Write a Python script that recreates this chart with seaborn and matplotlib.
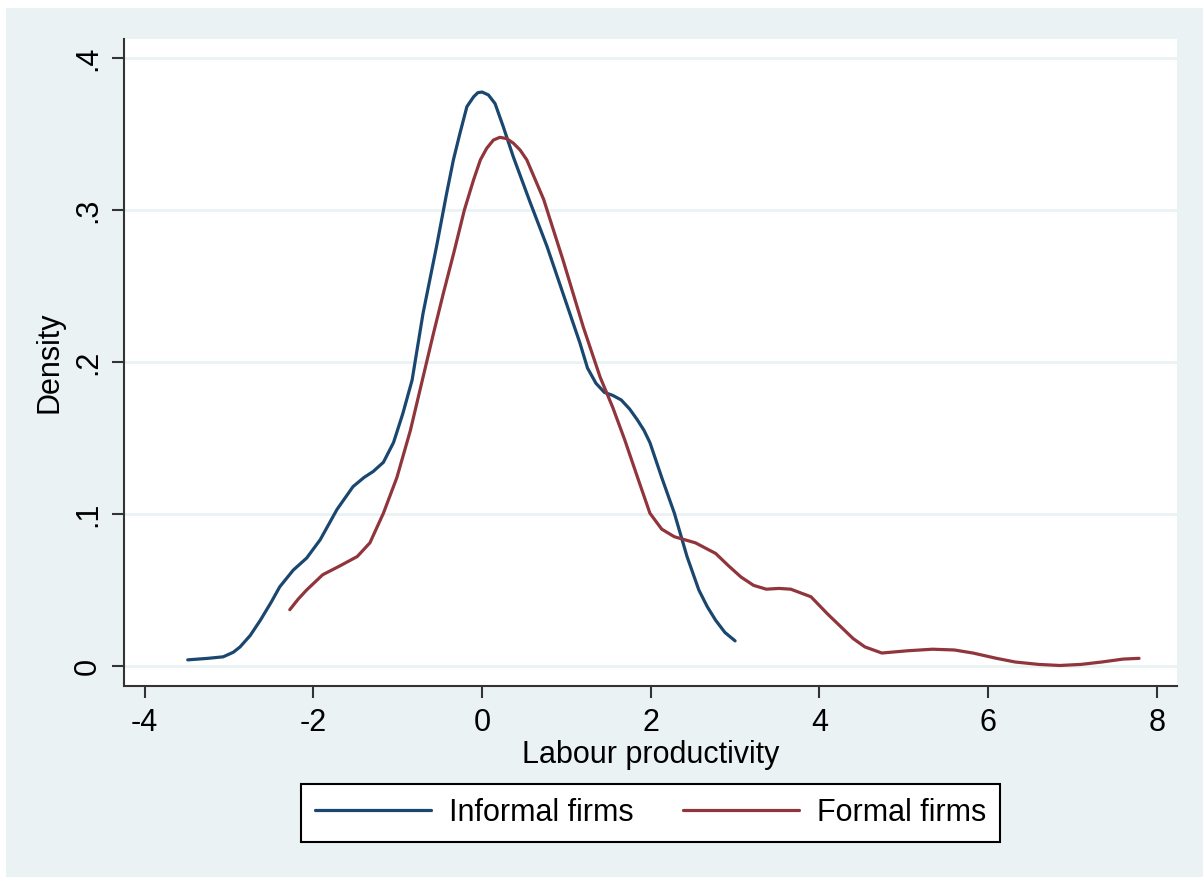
import numpy as np
import pandas as pd
import seaborn as sns
import matplotlib.pyplot as plt
from matplotlib.patches import Rectangle

# values (kernel density curves)
informal_x = [-3.49, -3.25, -3.07, -2.95, -2.87, -2.75, -2.63, -2.50, -2.40, -2.24,
              -2.08, -1.92, -1.72, -1.53, -1.40, -1.29, -1.17, -1.05, -0.94, -0.83,
              -0.70, -0.54, -0.42, -0.34, -0.26, -0.18, -0.10, -0.05, 0.00, 0.075,
              0.154, 0.25, 0.37, 0.57, 0.77, 0.96, 1.16, 1.25, 1.35, 1.45,
              1.55, 1.65, 1.75, 1.84, 1.92, 1.99, 2.13, 2.28, 2.43, 2.57,
              2.67, 2.77, 2.88, 3.00]
informal_y = [0.004, 0.005, 0.006, 0.009, 0.0125, 0.020, 0.030, 0.042, 0.052, 0.063,
              0.071, 0.083, 0.103, 0.118, 0.124, 0.128, 0.134, 0.147, 0.166, 0.188,
              0.232, 0.276, 0.311, 0.333, 0.351, 0.368, 0.3745, 0.3772, 0.3776, 0.3757,
              0.370, 0.355, 0.335, 0.305, 0.276, 0.245, 0.2125, 0.196, 0.186, 0.180,
              0.178, 0.175, 0.169, 0.162, 0.155, 0.147, 0.124, 0.1005, 0.072, 0.050,
              0.039, 0.030, 0.022, 0.0165]

formal_x = [-2.28, -2.18, -2.08, -1.89, -1.68, -1.48, -1.33, -1.17, -1.01, -0.85,
            -0.70, -0.58, -0.46, -0.33, -0.21, -0.10, -0.02, 0.055, 0.134, 0.21,
            0.29, 0.37, 0.45, 0.53, 0.73, 0.96, 1.20, 1.40, 1.55, 1.69,
            1.85, 1.99, 2.13, 2.28, 2.53, 2.77, 2.92, 3.07, 3.22, 3.37,
            3.52, 3.66, 3.90, 4.10, 4.25, 4.40, 4.54, 4.74, 5.05, 5.34,
            5.60, 5.82, 6.10, 6.32, 6.60, 6.85, 7.10, 7.35, 7.60, 7.79]
formal_y = [0.037, 0.044, 0.050, 0.060, 0.066, 0.072, 0.081, 0.1005, 0.124, 0.155,
            0.190, 0.218, 0.245, 0.273, 0.300, 0.320, 0.333, 0.3406, 0.346, 0.3478,
            0.347, 0.344, 0.3395, 0.333, 0.307, 0.267, 0.223, 0.190, 0.170, 0.149,
            0.123, 0.1005, 0.090, 0.085, 0.081, 0.074, 0.066, 0.0585, 0.053, 0.0505,
            0.051, 0.0505, 0.0455, 0.034, 0.026, 0.018, 0.0125, 0.0085, 0.010, 0.011,
            0.0105, 0.0085, 0.005, 0.0026, 0.001, 0.0003, 0.001, 0.0026, 0.0045, 0.005]

x_ticks = [-4, -2, 0, 2, 4, 6, 8]
y_ticks = [0, 0.1, 0.2, 0.3, 0.4]
y_tick_labels = ["0", ".1", ".2", ".3", ".4"]

bg = "#EAF2F3"
blue = "#1A476F"
red = "#90353B"

sns.set_style("white")
plt.rcParams["font.family"] = ["Liberation Sans", "DejaVu Sans"]
plt.rcParams["text.color"] = "black"
plt.rcParams["axes.labelcolor"] = "black"
plt.rcParams["xtick.color"] = "black"
plt.rcParams["ytick.color"] = "black"

fig = plt.figure(figsize=(12.03, 8.77), dpi=100, facecolor=bg)
# thin white strips at the top and left edge, as in the export
fig.patches.append(Rectangle((0, 1 - 8 / 877), 1, 8 / 877, transform=fig.transFigure,
                             facecolor="white", edgecolor="none", zorder=0))
fig.patches.append(Rectangle((0, 0), 6 / 1203, 1, transform=fig.transFigure,
                             facecolor="white", edgecolor="none", zorder=0))

ax = fig.add_axes([124.5 / 1203, 1 - 686 / 877, (1177 - 124.5) / 1203, (686 - 39) / 877])
ax.set_facecolor("white")

df_inf = pd.DataFrame({"x": informal_x, "y": informal_y})
df_for = pd.DataFrame({"x": formal_x, "y": formal_y})
sns.lineplot(data=df_inf, x="x", y="y", ax=ax, color=blue, lw=2.3,
             estimator=None, sort=False, label="Informal firms")
sns.lineplot(data=df_for, x="x", y="y", ax=ax, color=red, lw=2.3,
             estimator=None, sort=False, label="Formal firms")

ax.set_xlim(-4.24, 8.24)
ax.set_ylim(-0.0132, 0.4125)
ax.set_xticks(x_ticks)
ax.set_xticklabels([str(t) for t in x_ticks])
ax.set_yticks(y_ticks)
ax.set_yticklabels(y_tick_labels, rotation=90, va="center")

for yv in y_ticks:
    ax.axhline(yv, color=bg, lw=2, zorder=0)

for side in ["top", "right"]:
    ax.spines[side].set_visible(False)
for side in ["left", "bottom"]:
    ax.spines[side].set_color("#333333")
    ax.spines[side].set_linewidth(1.5)

ax.tick_params(axis="both", direction="out", length=8.5, width=1.5, color="#333333",
               labelcolor="black", labelsize=22, pad=7, left=True, bottom=True)

ax.set_xlabel("Labour productivity", fontsize=22, labelpad=2, color="black")
ax.set_ylabel("Density", fontsize=22, labelpad=6, color="black")

leg = ax.legend(loc="center", bbox_to_anchor=(650.5 / 1203, 1 - 813 / 877),
                bbox_transform=fig.transFigure, ncol=2, fontsize=22, frameon=True,
                fancybox=False, handlelength=3.8, handletextpad=0.6,
                columnspacing=1.6, borderpad=0.45, framealpha=1)
leg.get_frame().set_edgecolor("black")
leg.get_frame().set_facecolor("white")
leg.get_frame().set_linewidth(1.5)
for line in leg.get_lines():
    line.set_linewidth(2.3)
for t in leg.get_texts():
    t.set_color("black")

fig.savefig("out.png", dpi=100, facecolor=fig.get_facecolor())
